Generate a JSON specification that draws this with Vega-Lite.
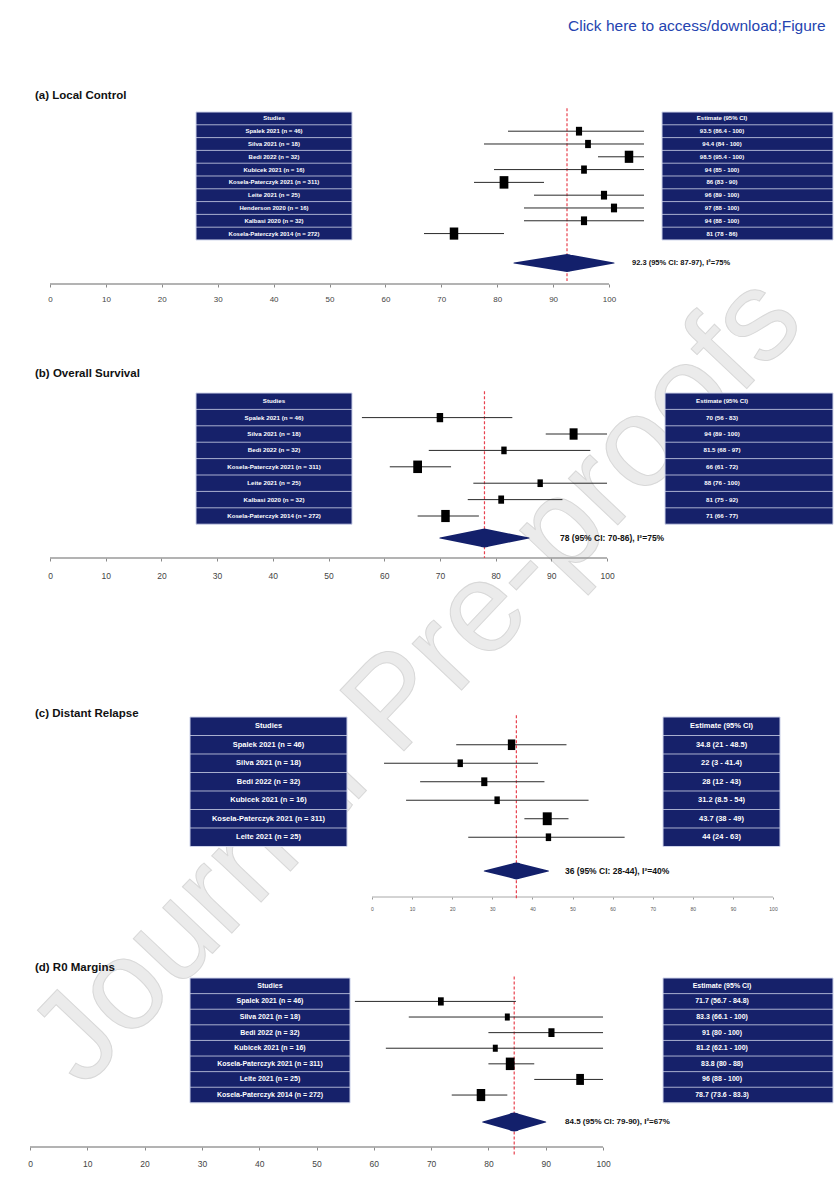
{
"$schema": "https://vega.github.io/schema/vega-lite/v6.json",
"background": "white",
"padding": {"left": 0, "top": 19, "right": 0, "bottom": 0},
"config": {"view": {"stroke": null}, "font": "Liberation Sans"},
"datasets": {
"lc": [
{"order":1,"study":"Spalek 2021 (n = 46)","est":93.5,"lo":86.4,"hi":100,"label":"93.5 (86.4 - 100)","weight":8},
{"order":2,"study":"Silva 2021 (n = 18)","est":94.4,"lo":84,"hi":100,"label":"94.4 (84 - 100)","weight":7},
{"order":3,"study":"Bedi 2022 (n = 32)","est":98.5,"lo":95.4,"hi":100,"label":"98.5 (95.4 - 100)","weight":16},
{"order":4,"study":"Kubicek 2021 (n = 16)","est":94,"lo":85,"hi":100,"label":"94 (85 - 100)","weight":7},
{"order":5,"study":"Kosela-Paterczyk 2021 (n = 311)","est":86,"lo":83,"hi":90,"label":"86 (83 - 90)","weight":17},
{"order":6,"study":"Leite 2021 (n = 25)","est":96,"lo":89,"hi":100,"label":"96 (89 - 100)","weight":8},
{"order":7,"study":"Henderson 2020 (n = 16)","est":97,"lo":88,"hi":100,"label":"97 (88 - 100)","weight":8},
{"order":8,"study":"Kalbasi 2020 (n = 32)","est":94,"lo":88,"hi":100,"label":"94 (88 - 100)","weight":8},
{"order":9,"study":"Kosela-Paterczyk 2014 (n = 272)","est":81,"lo":78,"hi":86,"label":"81 (78 - 86)","weight":16}
],
"lc_pooled": [{"title":"(a) Local Control","est":92.3,"lo":87,"hi":97,"label":"92.3 (95% CI: 87-97), I²=75%"}],
"os": [
{"order":1,"study":"Spalek 2021 (n = 46)","est":70,"lo":56,"hi":83,"label":"70 (56 - 83)","weight":9},
{"order":2,"study":"Silva 2021 (n = 18)","est":94,"lo":89,"hi":100,"label":"94 (89 - 100)","weight":14},
{"order":3,"study":"Bedi 2022 (n = 32)","est":81.5,"lo":68,"hi":97,"label":"81.5 (68 - 97)","weight":6},
{"order":4,"study":"Kosela-Paterczyk 2021 (n = 311)","est":66,"lo":61,"hi":72,"label":"66 (61 - 72)","weight":17},
{"order":5,"study":"Leite 2021 (n = 25)","est":88,"lo":76,"hi":100,"label":"88 (76 - 100)","weight":6},
{"order":6,"study":"Kalbasi 2020 (n = 32)","est":81,"lo":75,"hi":92,"label":"81 (75 - 92)","weight":7},
{"order":7,"study":"Kosela-Paterczyk 2014 (n = 272)","est":71,"lo":66,"hi":77,"label":"71 (66 - 77)","weight":16}
],
"os_pooled": [{"title":"(b) Overall Survival","est":78,"lo":70,"hi":86,"label":"78 (95% CI: 70-86), I²=75%"}],
"dr": [
{"order":1,"study":"Spalek 2021 (n = 46)","est":34.8,"lo":21,"hi":48.5,"label":"34.8 (21 - 48.5)","weight":12},
{"order":2,"study":"Silva 2021 (n = 18)","est":22,"lo":3,"hi":41.4,"label":"22 (3 - 41.4)","weight":6},
{"order":3,"study":"Bedi 2022 (n = 32)","est":28,"lo":12,"hi":43,"label":"28 (12 - 43)","weight":8},
{"order":4,"study":"Kubicek 2021 (n = 16)","est":31.2,"lo":8.5,"hi":54,"label":"31.2 (8.5 - 54)","weight":6},
{"order":5,"study":"Kosela-Paterczyk 2021 (n = 311)","est":43.7,"lo":38,"hi":49,"label":"43.7 (38 - 49)","weight":18},
{"order":6,"study":"Leite 2021 (n = 25)","est":44,"lo":24,"hi":63,"label":"44 (24 - 63)","weight":6}
],
"dr_pooled": [{"title":"(c) Distant Relapse","est":36,"lo":28,"hi":44,"label":"36 (95% CI: 28-44), I²=40%"}],
"r0": [
{"order":1,"study":"Spalek 2021 (n = 46)","est":71.7,"lo":56.7,"hi":84.8,"label":"71.7 (56.7 - 84.8)","weight":7},
{"order":2,"study":"Silva 2021 (n = 18)","est":83.3,"lo":66.1,"hi":100,"label":"83.3 (66.1 - 100)","weight":5},
{"order":3,"study":"Bedi 2022 (n = 32)","est":91,"lo":80,"hi":100,"label":"91 (80 - 100)","weight":8},
{"order":4,"study":"Kubicek 2021 (n = 16)","est":81.2,"lo":62.1,"hi":100,"label":"81.2 (62.1 - 100)","weight":5},
{"order":5,"study":"Kosela-Paterczyk 2021 (n = 311)","est":83.8,"lo":80,"hi":88,"label":"83.8 (80 - 88)","weight":17},
{"order":6,"study":"Leite 2021 (n = 25)","est":96,"lo":88,"hi":100,"label":"96 (88 - 100)","weight":13},
{"order":7,"study":"Kosela-Paterczyk 2014 (n = 272)","est":78.7,"lo":73.6,"hi":83.3,"label":"78.7 (73.6 - 83.3)","weight":16}
],
"r0_pooled": [{"title":"(d) R0 Margins","est":84.5,"lo":79,"hi":90,"label":"84.5 (95% CI: 79-90), I²=67%"}]
},
"bounds": "flush",
"spacing": 0,
"vconcat": [
{"width": 834, "height": 172,
 "resolve": {"scale": {"x": "independent"}, "axis": {"x": "independent"}},
 "layer": [
  {"layer": [
   {"data": {"values": [{"text": "Journal Pre-proofs"}]},
    "mark": {"type": "text", "angle": -46.6, "fontSize": 128, "fill": "#ebebeb", "stroke": "#d8d8d8", "strokeWidth": 1, "align": "center", "baseline": "middle"},
    "encoding": {"x": {"datum": 65.83, "type": "quantitative", "scale": {"domain": [-8.945, 140.25], "nice": false, "zero": false}, "axis": null},
                 "y": {"datum": 43.95, "type": "quantitative", "scale": {"domain": [-0.5, 12.94], "reverse": true, "nice": false, "zero": false}, "axis": null},
                 "text": {"field": "text"}}},
   {"data": {"values": [{"text": "Click here to access/download;Figure"}]},
    "mark": {"type": "text", "fontSize": 15.5, "color": "#2544b0", "align": "left", "baseline": "middle"},
    "encoding": {"x": {"datum": 92.67, "type": "quantitative", "scale": {"domain": [-8.945, 140.25], "nice": false, "zero": false}, "axis": null},
                 "y": {"datum": -7.22, "type": "quantitative", "scale": {"domain": [-0.5, 12.94], "reverse": true, "nice": false, "zero": false}, "axis": null},
                 "text": {"field": "text"}}},
   {"data": {"name": "lc_pooled"},
    "mark": {"type": "text", "fontSize": 11.5, "fontWeight": "bold", "color": "#111111", "align": "left", "baseline": "middle"},
    "encoding": {"x": {"datum": -2.68, "type": "quantitative", "scale": {"domain": [-8.945, 140.25], "nice": false, "zero": false}, "axis": null},
                 "y": {"datum": -1.75, "type": "quantitative", "scale": {"domain": [-0.5, 12.94], "reverse": true, "nice": false, "zero": false}, "axis": null},
                 "text": {"field": "title"}}},
   {"data": {"name": "lc_pooled"},
    "mark": {"type": "rect", "fill": "#16216a", "stroke": "#cfd4ea", "strokeWidth": 1},
    "encoding": {"x": {"datum": 26.12, "type": "quantitative", "scale": {"domain": [-8.945, 140.25], "nice": false, "zero": false}, "axis": null}, "x2": {"datum": 54.03},
                 "y": {"datum": -0.5, "type": "quantitative", "scale": {"domain": [-0.5, 12.94], "reverse": true, "nice": false, "zero": false}, "axis": null}, "y2": {"datum": 9.5}}},
   {"data": {"name": "lc_pooled"},
    "mark": {"type": "rect", "fill": "#16216a", "stroke": "#cfd4ea", "strokeWidth": 1},
    "encoding": {"x": {"datum": 109.48, "type": "quantitative", "scale": {"domain": [-8.945, 140.25], "nice": false, "zero": false}, "axis": null}, "x2": {"datum": 140.07},
                 "y": {"datum": -0.5, "type": "quantitative", "scale": {"domain": [-0.5, 12.94], "reverse": true, "nice": false, "zero": false}, "axis": null}, "y2": {"datum": 9.5}}},
   {"data": {"name": "lc"},
    "mark": {"type": "rule", "color": "#cfd4ea", "strokeWidth": 0.8, "yOffset": -6.4},
    "encoding": {"x": {"datum": 26.12, "type": "quantitative", "scale": {"domain": [-8.945, 140.25], "nice": false, "zero": false}, "axis": null}, "x2": {"datum": 54.03},
                 "y": {"field": "order", "type": "quantitative", "scale": {"domain": [-0.5, 12.94], "reverse": true, "nice": false, "zero": false}, "axis": null}}},
   {"data": {"name": "lc"},
    "mark": {"type": "rule", "color": "#cfd4ea", "strokeWidth": 0.8, "yOffset": -6.4},
    "encoding": {"x": {"datum": 109.48, "type": "quantitative", "scale": {"domain": [-8.945, 140.25], "nice": false, "zero": false}, "axis": null}, "x2": {"datum": 140.07},
                 "y": {"field": "order", "type": "quantitative", "scale": {"domain": [-0.5, 12.94], "reverse": true, "nice": false, "zero": false}, "axis": null}}},
   {"data": {"name": "lc_pooled"},
    "mark": {"type": "text", "fontSize": 6, "fontWeight": "bold", "color": "white", "align": "center", "baseline": "middle"},
    "encoding": {"x": {"datum": 40.07, "type": "quantitative", "scale": {"domain": [-8.945, 140.25], "nice": false, "zero": false}, "axis": null},
                 "y": {"datum": 0, "type": "quantitative", "scale": {"domain": [-0.5, 12.94], "reverse": true, "nice": false, "zero": false}, "axis": null},
                 "text": {"value": "Studies"}}},
   {"data": {"name": "lc_pooled"},
    "mark": {"type": "text", "fontSize": 6, "fontWeight": "bold", "color": "white", "align": "center", "baseline": "middle"},
    "encoding": {"x": {"datum": 120.21, "type": "quantitative", "scale": {"domain": [-8.945, 140.25], "nice": false, "zero": false}, "axis": null},
                 "y": {"datum": 0, "type": "quantitative", "scale": {"domain": [-0.5, 12.94], "reverse": true, "nice": false, "zero": false}, "axis": null},
                 "text": {"value": "Estimate (95% CI)"}}},
   {"data": {"name": "lc"},
    "mark": {"type": "text", "fontSize": 6, "fontWeight": "bold", "color": "white", "align": "center", "baseline": "middle"},
    "encoding": {"x": {"datum": 40.07, "type": "quantitative", "scale": {"domain": [-8.945, 140.25], "nice": false, "zero": false}, "axis": null},
                 "y": {"field": "order", "type": "quantitative", "scale": {"domain": [-0.5, 12.94], "reverse": true, "nice": false, "zero": false}, "axis": null},
                 "text": {"field": "study"}}},
   {"data": {"name": "lc"},
    "mark": {"type": "text", "fontSize": 6, "fontWeight": "bold", "color": "white", "align": "center", "baseline": "middle"},
    "encoding": {"x": {"datum": 120.21, "type": "quantitative", "scale": {"domain": [-8.945, 140.25], "nice": false, "zero": false}, "axis": null},
                 "y": {"field": "order", "type": "quantitative", "scale": {"domain": [-0.5, 12.94], "reverse": true, "nice": false, "zero": false}, "axis": null},
                 "text": {"field": "label"}}},
   {"data": {"name": "lc_pooled"},
    "mark": {"type": "rule", "color": "#9a9a9a", "strokeWidth": 1.5},
    "encoding": {"x": {"datum": 0, "type": "quantitative", "scale": {"domain": [-8.945, 140.25], "nice": false, "zero": false}, "axis": null},
                 "x2": {"datum": 100},
                 "y": {"datum": 12.94, "type": "quantitative", "scale": {"domain": [-0.5, 12.94], "reverse": true, "nice": false, "zero": false}, "axis": null}}}
  ]},
  {"resolve": {"scale": {"size": "independent"}},
   "layer": [
   {"data": {"name": "lc_pooled"},
    "mark": {"type": "rule", "color": "#e8414e", "strokeDash": [3, 2], "strokeWidth": 1.2},
    "encoding": {"x": {"field": "est", "type": "quantitative", "scale": {"domain": [35.6, 119.0], "nice": false, "zero": false}, "axis": null},
                 "y": {"datum": -0.8, "type": "quantitative", "scale": {"domain": [-0.5, 12.94], "reverse": true, "nice": false, "zero": false}, "axis": null}, "y2": {"datum": 12.7}}},
   {"data": {"name": "lc"},
    "mark": {"type": "rule", "color": "#2a2a2a", "strokeWidth": 1},
    "encoding": {"x": {"field": "lo", "type": "quantitative", "scale": {"domain": [35.6, 119.0], "nice": false, "zero": false}, "axis": null}, "x2": {"field": "hi"},
                 "y": {"field": "order", "type": "quantitative", "scale": {"domain": [-0.5, 12.94], "reverse": true, "nice": false, "zero": false}, "axis": null}}},
   {"data": {"name": "lc"},
    "mark": {"type": "point", "filled": true, "shape": "M-0.7,-1H0.7V1H-0.7Z", "color": "#000000", "opacity": 1},
    "encoding": {"x": {"field": "est", "type": "quantitative", "scale": {"domain": [35.6, 119.0], "nice": false, "zero": false}, "axis": null},
                 "y": {"field": "order", "type": "quantitative", "scale": {"domain": [-0.5, 12.94], "reverse": true, "nice": false, "zero": false}, "axis": null},
                 "size": {"field": "weight", "type": "quantitative", "scale": {"domain": [5, 18], "range": [50, 165]}, "legend": null}}},
   {"data": {"name": "lc_pooled"},
    "transform": [{"fold": ["lo", "est", "hi"], "as": ["key", "value"]}],
    "mark": {"type": "trail", "color": "#13206b"},
    "encoding": {"x": {"field": "value", "type": "quantitative", "scale": {"domain": [35.6, 119.0], "nice": false, "zero": false}, "axis": null},
                 "y": {"datum": 11.3, "type": "quantitative", "scale": {"domain": [-0.5, 12.94], "reverse": true, "nice": false, "zero": false}, "axis": null},
                 "size": {"field": "key", "type": "ordinal", "scale": {"type": "ordinal", "domain": ["lo", "est", "hi"], "range": [0, 18, 0]}, "legend": null},
                 "order": {"field": "value", "type": "quantitative"}}},
   {"data": {"name": "lc_pooled"},
    "mark": {"type": "text", "fontSize": 7.5, "fontWeight": "bold", "color": "#111111", "align": "left", "baseline": "middle"},
    "encoding": {"x": {"datum": 98.8, "type": "quantitative", "scale": {"domain": [35.6, 119.0], "nice": false, "zero": false}, "axis": null},
                 "y": {"datum": 11.3, "type": "quantitative", "scale": {"domain": [-0.5, 12.94], "reverse": true, "nice": false, "zero": false}, "axis": null},
                 "text": {"field": "label"}}}
  ]},
  {"data": {"name": "lc"},
   "mark": {"type": "point", "opacity": 0},
   "encoding": {"x": {"field": "est", "type": "quantitative", "scale": {"domain": [-8.945, 140.25], "nice": false, "zero": false},
                      "axis": {"values": [0,10,20,30,40,50,60,70,80,90,100], "orient": "bottom", "domain": false, "grid": false, "title": null, "tickSize": 3, "tickColor": "#8a8a8a", "labelColor": "#444444", "labelFontSize": 8, "labelPadding": 8, "labelFont": "Liberation Sans", "labelOverlap": false, "labelFlush": false, "format": "d"}},
                "y": {"field": "order", "type": "quantitative", "scale": {"domain": [-0.5, 12.94], "reverse": true, "nice": false, "zero": false}, "axis": null}}}
 ]
},
{"width": 834, "height": 274,
 "resolve": {"scale": {"x": "independent"}, "axis": {"x": "independent"}},
 "layer": [
  {"layer": [
   {"data": {"name": "os_pooled"},
    "mark": {"type": "text", "fontSize": 11.5, "fontWeight": "bold", "color": "#111111", "align": "left", "baseline": "middle"},
    "encoding": {"x": {"datum": -2.69, "type": "quantitative", "scale": {"domain": [-8.977, 140.75], "nice": false, "zero": false}, "axis": null},
                 "y": {"datum": -1.66, "type": "quantitative", "scale": {"domain": [-7.146, 9.56], "reverse": true, "nice": false, "zero": false}, "axis": null},
                 "text": {"field": "title"}}},
   {"data": {"name": "os_pooled"},
    "mark": {"type": "rect", "fill": "#16216a", "stroke": "#cfd4ea", "strokeWidth": 1},
    "encoding": {"x": {"datum": 26.21, "type": "quantitative", "scale": {"domain": [-8.977, 140.75], "nice": false, "zero": false}, "axis": null}, "x2": {"datum": 54.22},
                 "y": {"datum": -0.5, "type": "quantitative", "scale": {"domain": [-7.146, 9.56], "reverse": true, "nice": false, "zero": false}, "axis": null}, "y2": {"datum": 7.5}}},
   {"data": {"name": "os_pooled"},
    "mark": {"type": "rect", "fill": "#16216a", "stroke": "#cfd4ea", "strokeWidth": 1},
    "encoding": {"x": {"datum": 110.41, "type": "quantitative", "scale": {"domain": [-8.977, 140.75], "nice": false, "zero": false}, "axis": null}, "x2": {"datum": 140.57},
                 "y": {"datum": -0.5, "type": "quantitative", "scale": {"domain": [-7.146, 9.56], "reverse": true, "nice": false, "zero": false}, "axis": null}, "y2": {"datum": 7.5}}},
   {"data": {"name": "os"},
    "mark": {"type": "rule", "color": "#cfd4ea", "strokeWidth": 0.8, "yOffset": -8.2},
    "encoding": {"x": {"datum": 26.21, "type": "quantitative", "scale": {"domain": [-8.977, 140.75], "nice": false, "zero": false}, "axis": null}, "x2": {"datum": 54.22},
                 "y": {"field": "order", "type": "quantitative", "scale": {"domain": [-7.146, 9.56], "reverse": true, "nice": false, "zero": false}, "axis": null}}},
   {"data": {"name": "os"},
    "mark": {"type": "rule", "color": "#cfd4ea", "strokeWidth": 0.8, "yOffset": -8.2},
    "encoding": {"x": {"datum": 110.41, "type": "quantitative", "scale": {"domain": [-8.977, 140.75], "nice": false, "zero": false}, "axis": null}, "x2": {"datum": 140.57},
                 "y": {"field": "order", "type": "quantitative", "scale": {"domain": [-7.146, 9.56], "reverse": true, "nice": false, "zero": false}, "axis": null}}},
   {"data": {"name": "os_pooled"},
    "mark": {"type": "text", "fontSize": 6.2, "fontWeight": "bold", "color": "white", "align": "center", "baseline": "middle"},
    "encoding": {"x": {"datum": 40.22, "type": "quantitative", "scale": {"domain": [-8.977, 140.75], "nice": false, "zero": false}, "axis": null},
                 "y": {"datum": 0, "type": "quantitative", "scale": {"domain": [-7.146, 9.56], "reverse": true, "nice": false, "zero": false}, "axis": null},
                 "text": {"value": "Studies"}}},
   {"data": {"name": "os_pooled"},
    "mark": {"type": "text", "fontSize": 6.2, "fontWeight": "bold", "color": "white", "align": "center", "baseline": "middle"},
    "encoding": {"x": {"datum": 120.65, "type": "quantitative", "scale": {"domain": [-8.977, 140.75], "nice": false, "zero": false}, "axis": null},
                 "y": {"datum": 0, "type": "quantitative", "scale": {"domain": [-7.146, 9.56], "reverse": true, "nice": false, "zero": false}, "axis": null},
                 "text": {"value": "Estimate (95% CI)"}}},
   {"data": {"name": "os"},
    "mark": {"type": "text", "fontSize": 6.2, "fontWeight": "bold", "color": "white", "align": "center", "baseline": "middle"},
    "encoding": {"x": {"datum": 40.22, "type": "quantitative", "scale": {"domain": [-8.977, 140.75], "nice": false, "zero": false}, "axis": null},
                 "y": {"field": "order", "type": "quantitative", "scale": {"domain": [-7.146, 9.56], "reverse": true, "nice": false, "zero": false}, "axis": null},
                 "text": {"field": "study"}}},
   {"data": {"name": "os"},
    "mark": {"type": "text", "fontSize": 6.2, "fontWeight": "bold", "color": "white", "align": "center", "baseline": "middle"},
    "encoding": {"x": {"datum": 120.65, "type": "quantitative", "scale": {"domain": [-8.977, 140.75], "nice": false, "zero": false}, "axis": null},
                 "y": {"field": "order", "type": "quantitative", "scale": {"domain": [-7.146, 9.56], "reverse": true, "nice": false, "zero": false}, "axis": null},
                 "text": {"field": "label"}}},
   {"data": {"name": "os_pooled"},
    "mark": {"type": "rule", "color": "#9a9a9a", "strokeWidth": 1.5},
    "encoding": {"x": {"datum": 0, "type": "quantitative", "scale": {"domain": [-8.977, 140.75], "nice": false, "zero": false}, "axis": null},
                 "x2": {"datum": 100},
                 "y": {"datum": 9.56, "type": "quantitative", "scale": {"domain": [-7.146, 9.56], "reverse": true, "nice": false, "zero": false}, "axis": null}}}
  ]},
  {"resolve": {"scale": {"size": "independent"}},
   "layer": [
   {"data": {"name": "os_pooled"},
    "mark": {"type": "rule", "color": "#e8414e", "strokeDash": [3, 2], "strokeWidth": 1.2},
    "encoding": {"x": {"field": "est", "type": "quantitative", "scale": {"domain": [-8.977, 140.75], "nice": false, "zero": false}, "axis": null},
                 "y": {"datum": -0.6, "type": "quantitative", "scale": {"domain": [-7.146, 9.56], "reverse": true, "nice": false, "zero": false}, "axis": null}, "y2": {"datum": 9.56}}},
   {"data": {"name": "os"},
    "mark": {"type": "rule", "color": "#2a2a2a", "strokeWidth": 1},
    "encoding": {"x": {"field": "lo", "type": "quantitative", "scale": {"domain": [-8.977, 140.75], "nice": false, "zero": false}, "axis": null}, "x2": {"field": "hi"},
                 "y": {"field": "order", "type": "quantitative", "scale": {"domain": [-7.146, 9.56], "reverse": true, "nice": false, "zero": false}, "axis": null}}},
   {"data": {"name": "os"},
    "mark": {"type": "point", "filled": true, "shape": "M-0.7,-1H0.7V1H-0.7Z", "color": "#000000", "opacity": 1},
    "encoding": {"x": {"field": "est", "type": "quantitative", "scale": {"domain": [-8.977, 140.75], "nice": false, "zero": false}, "axis": null},
                 "y": {"field": "order", "type": "quantitative", "scale": {"domain": [-7.146, 9.56], "reverse": true, "nice": false, "zero": false}, "axis": null},
                 "size": {"field": "weight", "type": "quantitative", "scale": {"domain": [5, 18], "range": [50, 165]}, "legend": null}}},
   {"data": {"name": "os_pooled"},
    "transform": [{"fold": ["lo", "est", "hi"], "as": ["key", "value"]}],
    "mark": {"type": "trail", "color": "#13206b"},
    "encoding": {"x": {"field": "value", "type": "quantitative", "scale": {"domain": [-8.977, 140.75], "nice": false, "zero": false}, "axis": null},
                 "y": {"datum": 8.34, "type": "quantitative", "scale": {"domain": [-7.146, 9.56], "reverse": true, "nice": false, "zero": false}, "axis": null},
                 "size": {"field": "key", "type": "ordinal", "scale": {"type": "ordinal", "domain": ["lo", "est", "hi"], "range": [0, 19, 0]}, "legend": null},
                 "order": {"field": "value", "type": "quantitative"}}},
   {"data": {"name": "os_pooled"},
    "mark": {"type": "text", "fontSize": 8.5, "fontWeight": "bold", "color": "#111111", "align": "left", "baseline": "middle"},
    "encoding": {"x": {"datum": 91.56, "type": "quantitative", "scale": {"domain": [-8.977, 140.75], "nice": false, "zero": false}, "axis": null},
                 "y": {"datum": 8.34, "type": "quantitative", "scale": {"domain": [-7.146, 9.56], "reverse": true, "nice": false, "zero": false}, "axis": null},
                 "text": {"field": "label"}}}
  ]},
  {"data": {"name": "os"},
   "mark": {"type": "point", "opacity": 0},
   "encoding": {"x": {"field": "est", "type": "quantitative", "scale": {"domain": [-8.977, 140.75], "nice": false, "zero": false},
                      "axis": {"values": [0,10,20,30,40,50,60,70,80,90,100], "orient": "bottom", "domain": false, "grid": false, "title": null, "tickSize": 3, "tickColor": "#8a8a8a", "labelColor": "#444444", "labelFontSize": 8.5, "labelPadding": 10, "labelFont": "Liberation Sans", "labelOverlap": false, "labelFlush": false, "format": "d"}},
                "y": {"field": "order", "type": "quantitative", "scale": {"domain": [-7.146, 9.56], "reverse": true, "nice": false, "zero": false}, "axis": null}}}
 ]
},
{"width": 834, "height": 339,
 "resolve": {"scale": {"x": "independent"}, "axis": {"x": "independent"}},
 "layer": [
  {"layer": [
   {"data": {"name": "dr_pooled"},
    "mark": {"type": "text", "fontSize": 11.5, "fontWeight": "bold", "color": "#111111", "align": "left", "baseline": "middle"},
    "encoding": {"x": {"datum": -84.04, "type": "quantitative", "scale": {"domain": [-92.77, 115.21], "nice": false, "zero": false}, "axis": null},
                 "y": {"datum": -0.66, "type": "quantitative", "scale": {"domain": [-9.095, 9.23], "reverse": true, "nice": false, "zero": false}, "axis": null},
                 "text": {"field": "title"}}},
   {"data": {"name": "dr_pooled"},
    "mark": {"type": "rect", "fill": "#16216a", "stroke": "#cfd4ea", "strokeWidth": 1},
    "encoding": {"x": {"datum": -45.39, "type": "quantitative", "scale": {"domain": [-92.77, 115.21], "nice": false, "zero": false}, "axis": null}, "x2": {"datum": -6.23},
                 "y": {"datum": -0.5, "type": "quantitative", "scale": {"domain": [-9.095, 9.23], "reverse": true, "nice": false, "zero": false}, "axis": null}, "y2": {"datum": 6.5}}},
   {"data": {"name": "dr_pooled"},
    "mark": {"type": "rect", "fill": "#16216a", "stroke": "#cfd4ea", "strokeWidth": 1},
    "encoding": {"x": {"datum": 72.57, "type": "quantitative", "scale": {"domain": [-92.77, 115.21], "nice": false, "zero": false}, "axis": null}, "x2": {"datum": 101.75},
                 "y": {"datum": -0.5, "type": "quantitative", "scale": {"domain": [-9.095, 9.23], "reverse": true, "nice": false, "zero": false}, "axis": null}, "y2": {"datum": 6.5}}},
   {"data": {"name": "dr"},
    "mark": {"type": "rule", "color": "#cfd4ea", "strokeWidth": 0.8, "yOffset": -9.25},
    "encoding": {"x": {"datum": -45.39, "type": "quantitative", "scale": {"domain": [-92.77, 115.21], "nice": false, "zero": false}, "axis": null}, "x2": {"datum": -6.23},
                 "y": {"field": "order", "type": "quantitative", "scale": {"domain": [-9.095, 9.23], "reverse": true, "nice": false, "zero": false}, "axis": null}}},
   {"data": {"name": "dr"},
    "mark": {"type": "rule", "color": "#cfd4ea", "strokeWidth": 0.8, "yOffset": -9.25},
    "encoding": {"x": {"datum": 72.57, "type": "quantitative", "scale": {"domain": [-92.77, 115.21], "nice": false, "zero": false}, "axis": null}, "x2": {"datum": 101.75},
                 "y": {"field": "order", "type": "quantitative", "scale": {"domain": [-9.095, 9.23], "reverse": true, "nice": false, "zero": false}, "axis": null}}},
   {"data": {"name": "dr_pooled"},
    "mark": {"type": "text", "fontSize": 7.5, "fontWeight": "bold", "color": "white", "align": "center", "baseline": "middle"},
    "encoding": {"x": {"datum": -25.81, "type": "quantitative", "scale": {"domain": [-92.77, 115.21], "nice": false, "zero": false}, "axis": null},
                 "y": {"datum": 0, "type": "quantitative", "scale": {"domain": [-9.095, 9.23], "reverse": true, "nice": false, "zero": false}, "axis": null},
                 "text": {"value": "Studies"}}},
   {"data": {"name": "dr_pooled"},
    "mark": {"type": "text", "fontSize": 7.5, "fontWeight": "bold", "color": "white", "align": "center", "baseline": "middle"},
    "encoding": {"x": {"datum": 87.16, "type": "quantitative", "scale": {"domain": [-92.77, 115.21], "nice": false, "zero": false}, "axis": null},
                 "y": {"datum": 0, "type": "quantitative", "scale": {"domain": [-9.095, 9.23], "reverse": true, "nice": false, "zero": false}, "axis": null},
                 "text": {"value": "Estimate (95% CI)"}}},
   {"data": {"name": "dr"},
    "mark": {"type": "text", "fontSize": 7.5, "fontWeight": "bold", "color": "white", "align": "center", "baseline": "middle"},
    "encoding": {"x": {"datum": -25.81, "type": "quantitative", "scale": {"domain": [-92.77, 115.21], "nice": false, "zero": false}, "axis": null},
                 "y": {"field": "order", "type": "quantitative", "scale": {"domain": [-9.095, 9.23], "reverse": true, "nice": false, "zero": false}, "axis": null},
                 "text": {"field": "study"}}},
   {"data": {"name": "dr"},
    "mark": {"type": "text", "fontSize": 7.5, "fontWeight": "bold", "color": "white", "align": "center", "baseline": "middle"},
    "encoding": {"x": {"datum": 87.16, "type": "quantitative", "scale": {"domain": [-92.77, 115.21], "nice": false, "zero": false}, "axis": null},
                 "y": {"field": "order", "type": "quantitative", "scale": {"domain": [-9.095, 9.23], "reverse": true, "nice": false, "zero": false}, "axis": null},
                 "text": {"field": "label"}}},
   {"data": {"name": "dr_pooled"},
    "mark": {"type": "rule", "color": "#a8a8a8", "strokeWidth": 1},
    "encoding": {"x": {"datum": 0, "type": "quantitative", "scale": {"domain": [-92.77, 115.21], "nice": false, "zero": false}, "axis": null},
                 "x2": {"datum": 100},
                 "y": {"datum": 9.23, "type": "quantitative", "scale": {"domain": [-9.095, 9.23], "reverse": true, "nice": false, "zero": false}, "axis": null}}}
  ]},
  {"resolve": {"scale": {"size": "independent"}},
   "layer": [
   {"data": {"name": "dr_pooled"},
    "mark": {"type": "rule", "color": "#e8414e", "strokeDash": [3, 2], "strokeWidth": 1.2},
    "encoding": {"x": {"field": "est", "type": "quantitative", "scale": {"domain": [-92.77, 115.21], "nice": false, "zero": false}, "axis": null},
                 "y": {"datum": -0.6, "type": "quantitative", "scale": {"domain": [-9.095, 9.23], "reverse": true, "nice": false, "zero": false}, "axis": null}, "y2": {"datum": 9.3}}},
   {"data": {"name": "dr"},
    "mark": {"type": "rule", "color": "#2a2a2a", "strokeWidth": 1},
    "encoding": {"x": {"field": "lo", "type": "quantitative", "scale": {"domain": [-92.77, 115.21], "nice": false, "zero": false}, "axis": null}, "x2": {"field": "hi"},
                 "y": {"field": "order", "type": "quantitative", "scale": {"domain": [-9.095, 9.23], "reverse": true, "nice": false, "zero": false}, "axis": null}}},
   {"data": {"name": "dr"},
    "mark": {"type": "point", "filled": true, "shape": "M-0.7,-1H0.7V1H-0.7Z", "color": "#000000", "opacity": 1},
    "encoding": {"x": {"field": "est", "type": "quantitative", "scale": {"domain": [-92.77, 115.21], "nice": false, "zero": false}, "axis": null},
                 "y": {"field": "order", "type": "quantitative", "scale": {"domain": [-9.095, 9.23], "reverse": true, "nice": false, "zero": false}, "axis": null},
                 "size": {"field": "weight", "type": "quantitative", "scale": {"domain": [5, 18], "range": [50, 165]}, "legend": null}}},
   {"data": {"name": "dr_pooled"},
    "transform": [{"fold": ["lo", "est", "hi"], "as": ["key", "value"]}],
    "mark": {"type": "trail", "color": "#13206b"},
    "encoding": {"x": {"field": "value", "type": "quantitative", "scale": {"domain": [-92.77, 115.21], "nice": false, "zero": false}, "axis": null},
                 "y": {"datum": 7.82, "type": "quantitative", "scale": {"domain": [-9.095, 9.23], "reverse": true, "nice": false, "zero": false}, "axis": null},
                 "size": {"field": "key", "type": "ordinal", "scale": {"type": "ordinal", "domain": ["lo", "est", "hi"], "range": [0, 17, 0]}, "legend": null},
                 "order": {"field": "value", "type": "quantitative"}}},
   {"data": {"name": "dr_pooled"},
    "mark": {"type": "text", "fontSize": 8.5, "fontWeight": "bold", "color": "#111111", "align": "left", "baseline": "middle"},
    "encoding": {"x": {"datum": 48.13, "type": "quantitative", "scale": {"domain": [-92.77, 115.21], "nice": false, "zero": false}, "axis": null},
                 "y": {"datum": 7.82, "type": "quantitative", "scale": {"domain": [-9.095, 9.23], "reverse": true, "nice": false, "zero": false}, "axis": null},
                 "text": {"field": "label"}}}
  ]},
  {"data": {"name": "dr"},
   "mark": {"type": "point", "opacity": 0},
   "encoding": {"x": {"field": "est", "type": "quantitative", "scale": {"domain": [-92.77, 115.21], "nice": false, "zero": false},
                      "axis": {"values": [0,10,20,30,40,50,60,70,80,90,100], "orient": "bottom", "domain": false, "grid": false, "title": null, "tickSize": 2, "tickColor": "#9a9a9a", "labelColor": "#555555", "labelFontSize": 5, "labelPadding": 7, "labelFont": "Liberation Sans", "labelOverlap": false, "labelFlush": false, "format": "d"}},
                "y": {"field": "order", "type": "quantitative", "scale": {"domain": [-9.095, 9.23], "reverse": true, "nice": false, "zero": false}, "axis": null}}}
 ]
},
{"width": 834, "height": 250,
 "resolve": {"scale": {"x": "independent"}, "axis": {"x": "independent"}},
 "layer": [
  {"layer": [
   {"data": {"name": "r0_pooled"},
    "mark": {"type": "text", "fontSize": 11.5, "fontWeight": "bold", "color": "#111111", "align": "left", "baseline": "middle"},
    "encoding": {"x": {"datum": 0.87, "type": "quantitative", "scale": {"domain": [-5.236, 140.31], "nice": false, "zero": false}, "axis": null},
                 "y": {"datum": -1.14, "type": "quantitative", "scale": {"domain": [-5.692, 10.33], "reverse": true, "nice": false, "zero": false}, "axis": null},
                 "text": {"field": "title"}}},
   {"data": {"name": "r0_pooled"},
    "mark": {"type": "rect", "fill": "#16216a", "stroke": "#cfd4ea", "strokeWidth": 1},
    "encoding": {"x": {"datum": 27.92, "type": "quantitative", "scale": {"domain": [-5.236, 140.31], "nice": false, "zero": false}, "axis": null}, "x2": {"datum": 55.85},
                 "y": {"datum": -0.5, "type": "quantitative", "scale": {"domain": [-5.692, 10.33], "reverse": true, "nice": false, "zero": false}, "axis": null}, "y2": {"datum": 7.5}}},
   {"data": {"name": "r0_pooled"},
    "mark": {"type": "rect", "fill": "#16216a", "stroke": "#cfd4ea", "strokeWidth": 1},
    "encoding": {"x": {"datum": 110.47, "type": "quantitative", "scale": {"domain": [-5.236, 140.31], "nice": false, "zero": false}, "axis": null}, "x2": {"datum": 140.14},
                 "y": {"datum": -0.5, "type": "quantitative", "scale": {"domain": [-5.692, 10.33], "reverse": true, "nice": false, "zero": false}, "axis": null}, "y2": {"datum": 7.5}}},
   {"data": {"name": "r0"},
    "mark": {"type": "rule", "color": "#cfd4ea", "strokeWidth": 0.8, "yOffset": -7.8},
    "encoding": {"x": {"datum": 27.92, "type": "quantitative", "scale": {"domain": [-5.236, 140.31], "nice": false, "zero": false}, "axis": null}, "x2": {"datum": 55.85},
                 "y": {"field": "order", "type": "quantitative", "scale": {"domain": [-5.692, 10.33], "reverse": true, "nice": false, "zero": false}, "axis": null}}},
   {"data": {"name": "r0"},
    "mark": {"type": "rule", "color": "#cfd4ea", "strokeWidth": 0.8, "yOffset": -7.8},
    "encoding": {"x": {"datum": 110.47, "type": "quantitative", "scale": {"domain": [-5.236, 140.31], "nice": false, "zero": false}, "axis": null}, "x2": {"datum": 140.14},
                 "y": {"field": "order", "type": "quantitative", "scale": {"domain": [-5.692, 10.33], "reverse": true, "nice": false, "zero": false}, "axis": null}}},
   {"data": {"name": "r0_pooled"},
    "mark": {"type": "text", "fontSize": 7, "fontWeight": "bold", "color": "white", "align": "center", "baseline": "middle"},
    "encoding": {"x": {"datum": 41.88, "type": "quantitative", "scale": {"domain": [-5.236, 140.31], "nice": false, "zero": false}, "axis": null},
                 "y": {"datum": 0, "type": "quantitative", "scale": {"domain": [-5.692, 10.33], "reverse": true, "nice": false, "zero": false}, "axis": null},
                 "text": {"value": "Studies"}}},
   {"data": {"name": "r0_pooled"},
    "mark": {"type": "text", "fontSize": 7, "fontWeight": "bold", "color": "white", "align": "center", "baseline": "middle"},
    "encoding": {"x": {"datum": 120.77, "type": "quantitative", "scale": {"domain": [-5.236, 140.31], "nice": false, "zero": false}, "axis": null},
                 "y": {"datum": 0, "type": "quantitative", "scale": {"domain": [-5.692, 10.33], "reverse": true, "nice": false, "zero": false}, "axis": null},
                 "text": {"value": "Estimate (95% CI)"}}},
   {"data": {"name": "r0"},
    "mark": {"type": "text", "fontSize": 7, "fontWeight": "bold", "color": "white", "align": "center", "baseline": "middle"},
    "encoding": {"x": {"datum": 41.88, "type": "quantitative", "scale": {"domain": [-5.236, 140.31], "nice": false, "zero": false}, "axis": null},
                 "y": {"field": "order", "type": "quantitative", "scale": {"domain": [-5.692, 10.33], "reverse": true, "nice": false, "zero": false}, "axis": null},
                 "text": {"field": "study"}}},
   {"data": {"name": "r0"},
    "mark": {"type": "text", "fontSize": 7, "fontWeight": "bold", "color": "white", "align": "center", "baseline": "middle"},
    "encoding": {"x": {"datum": 120.77, "type": "quantitative", "scale": {"domain": [-5.236, 140.31], "nice": false, "zero": false}, "axis": null},
                 "y": {"field": "order", "type": "quantitative", "scale": {"domain": [-5.692, 10.33], "reverse": true, "nice": false, "zero": false}, "axis": null},
                 "text": {"field": "label"}}},
   {"data": {"name": "r0_pooled"},
    "mark": {"type": "rule", "color": "#9a9a9a", "strokeWidth": 1.5},
    "encoding": {"x": {"datum": 0, "type": "quantitative", "scale": {"domain": [-5.236, 140.31], "nice": false, "zero": false}, "axis": null},
                 "x2": {"datum": 100},
                 "y": {"datum": 10.33, "type": "quantitative", "scale": {"domain": [-5.692, 10.33], "reverse": true, "nice": false, "zero": false}, "axis": null}}}
  ]},
  {"resolve": {"scale": {"size": "independent"}},
   "layer": [
   {"data": {"name": "r0_pooled"},
    "mark": {"type": "rule", "color": "#e8414e", "strokeDash": [3, 2], "strokeWidth": 1.2},
    "encoding": {"x": {"field": "est", "type": "quantitative", "scale": {"domain": [-5.236, 140.31], "nice": false, "zero": false}, "axis": null},
                 "y": {"datum": -0.6, "type": "quantitative", "scale": {"domain": [-5.692, 10.33], "reverse": true, "nice": false, "zero": false}, "axis": null}, "y2": {"datum": 10.9}}},
   {"data": {"name": "r0"},
    "mark": {"type": "rule", "color": "#2a2a2a", "strokeWidth": 1},
    "encoding": {"x": {"field": "lo", "type": "quantitative", "scale": {"domain": [-5.236, 140.31], "nice": false, "zero": false}, "axis": null}, "x2": {"field": "hi"},
                 "y": {"field": "order", "type": "quantitative", "scale": {"domain": [-5.692, 10.33], "reverse": true, "nice": false, "zero": false}, "axis": null}}},
   {"data": {"name": "r0"},
    "mark": {"type": "point", "filled": true, "shape": "M-0.7,-1H0.7V1H-0.7Z", "color": "#000000", "opacity": 1},
    "encoding": {"x": {"field": "est", "type": "quantitative", "scale": {"domain": [-5.236, 140.31], "nice": false, "zero": false}, "axis": null},
                 "y": {"field": "order", "type": "quantitative", "scale": {"domain": [-5.692, 10.33], "reverse": true, "nice": false, "zero": false}, "axis": null},
                 "size": {"field": "weight", "type": "quantitative", "scale": {"domain": [5, 18], "range": [50, 165]}, "legend": null}}},
   {"data": {"name": "r0_pooled"},
    "transform": [{"fold": ["lo", "est", "hi"], "as": ["key", "value"]}],
    "mark": {"type": "trail", "color": "#13206b"},
    "encoding": {"x": {"field": "value", "type": "quantitative", "scale": {"domain": [-5.236, 140.31], "nice": false, "zero": false}, "axis": null},
                 "y": {"datum": 8.73, "type": "quantitative", "scale": {"domain": [-5.692, 10.33], "reverse": true, "nice": false, "zero": false}, "axis": null},
                 "size": {"field": "key", "type": "ordinal", "scale": {"type": "ordinal", "domain": ["lo", "est", "hi"], "range": [0, 19, 0]}, "legend": null},
                 "order": {"field": "value", "type": "quantitative"}}},
   {"data": {"name": "r0_pooled"},
    "mark": {"type": "text", "fontSize": 8, "fontWeight": "bold", "color": "#111111", "align": "left", "baseline": "middle"},
    "encoding": {"x": {"datum": 93.37, "type": "quantitative", "scale": {"domain": [-5.236, 140.31], "nice": false, "zero": false}, "axis": null},
                 "y": {"datum": 8.73, "type": "quantitative", "scale": {"domain": [-5.692, 10.33], "reverse": true, "nice": false, "zero": false}, "axis": null},
                 "text": {"field": "label"}}}
  ]},
  {"data": {"name": "r0"},
   "mark": {"type": "point", "opacity": 0},
   "encoding": {"x": {"field": "est", "type": "quantitative", "scale": {"domain": [-5.236, 140.31], "nice": false, "zero": false},
                      "axis": {"values": [0,10,20,30,40,50,60,70,80,90,100], "orient": "bottom", "domain": false, "grid": false, "title": null, "tickSize": 3, "tickColor": "#8a8a8a", "labelColor": "#444444", "labelFontSize": 8.5, "labelPadding": 9, "labelFont": "Liberation Sans", "labelOverlap": false, "labelFlush": false, "format": "d"}},
                "y": {"field": "order", "type": "quantitative", "scale": {"domain": [-5.692, 10.33], "reverse": true, "nice": false, "zero": false}, "axis": null}}}
 ]
}
]
}
